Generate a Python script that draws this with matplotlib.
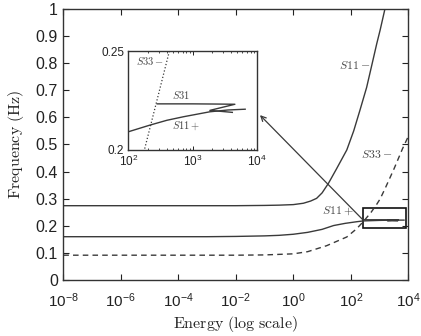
import numpy as np
import matplotlib
matplotlib.use('Agg')
import matplotlib.pyplot as plt
from matplotlib.patches import Rectangle

plt.rcParams['font.family'] = ['Liberation Sans', 'DejaVu Sans']
plt.rcParams['mathtext.fontset'] = 'custom'
plt.rcParams['mathtext.rm'] = 'Liberation Sans'
plt.rcParams['mathtext.it'] = 'Liberation Sans:italic'

# main curves: log10(energy) and frequency (Hz)
s11m_logE = [-8, -2, -1, -0.5, 0, 0.35, 0.6, 0.81, 1.0, 1.22, 1.5, 1.86, 2.1, 2.32, 2.55, 2.73, 2.9, 3.02, 3.19, 3.3]
s11m_freq = [0.275, 0.275, 0.276, 0.277, 0.279, 0.284, 0.292, 0.302, 0.322, 0.357, 0.41, 0.48, 0.55, 0.627, 0.71, 0.792, 0.87, 0.921, 1.0, 1.05]

s11p_logE = [-8, -3, -2, -1, -0.5, 0, 0.5, 1.0, 1.4, 1.8, 2.2, 2.43, 3.0, 3.5, 3.85]
s11p_freq = [0.161, 0.161, 0.162, 0.164, 0.166, 0.170, 0.177, 0.188, 0.202, 0.210, 0.216, 0.219, 0.221, 0.222, 0.222]

s33m_logE = [-8, -2, -1, 0, 0.5, 1.16, 1.86, 2.2, 2.43, 2.7, 2.9, 3.02, 3.2, 3.5, 3.8, 4.0]
s33m_freq = [0.093, 0.093, 0.094, 0.098, 0.106, 0.128, 0.160, 0.19, 0.216, 0.25, 0.28, 0.30, 0.34, 0.41, 0.485, 0.53]

# zoomed region
in_s33_logE = [2.2, 2.25, 2.45, 2.64, 2.68]
in_s33_freq = [0.196, 0.2, 0.2256, 0.25, 0.255]
in_s11p_logE = [2.0, 2.34, 2.6, 2.86, 3.27, 3.55, 3.82]
in_s11p_freq = [0.2092, 0.2126, 0.2150, 0.2168, 0.2193, 0.2202, 0.2206]
in_s31_logE = [2.45, 3.0, 3.4, 3.66, 3.27, 3.45, 3.62]
in_s31_freq = [0.2233, 0.2233, 0.2232, 0.2231, 0.2200, 0.2195, 0.2190]

xticks = [-8, -6, -4, -2, 0, 2, 4]
xtick_labels = [r'$\mathregular{10^{-8}}$', r'$\mathregular{10^{-6}}$', r'$\mathregular{10^{-4}}$',
                r'$\mathregular{10^{-2}}$', r'$\mathregular{10^{0}}$', r'$\mathregular{10^{2}}$',
                r'$\mathregular{10^{4}}$']
yticks = [0, 0.1, 0.2, 0.3, 0.4, 0.5, 0.6, 0.7, 0.8, 0.9, 1]
ytick_labels = ['0', '0.1', '0.2', '0.3', '0.4', '0.5', '0.6', '0.7', '0.8', '0.9', '1']
in_xticks = [2, 3, 4]
in_xtick_labels = [r'$\mathregular{10^{2}}$', r'$\mathregular{10^{3}}$', r'$\mathregular{10^{4}}$']
in_yticks = [0.2, 0.25]
in_ytick_labels = ['0.2', '0.25']

lc = '#3a3a3a'
fig = plt.figure(figsize=(4.21, 3.36), dpi=100)
ax = fig.add_axes([0.1504, 0.1652, 0.8195, 0.8095])

ax.plot(10 ** np.array(s11m_logE), s11m_freq, color=lc, lw=1.0)
ax.plot(10 ** np.array(s11p_logE), s11p_freq, color=lc, lw=1.0)
ax.plot(10 ** np.array(s33m_logE), s33m_freq, color=lc, lw=1.0, ls=(0, (4, 3)))
ax.plot(10 ** np.array(in_s31_logE), in_s31_freq, color=lc, lw=1.0)

ax.set_xscale('log')
ax.set_xlim(1e-8, 1e4)
ax.set_ylim(0, 1)
ax.set_xticks([10.0 ** v for v in xticks])
ax.set_xticklabels(xtick_labels)
ax.set_yticks(yticks)
ax.set_yticklabels(ytick_labels)
ax.minorticks_off()
ax.tick_params(direction='in', top=True, right=True, length=4, width=0.8,
               labelsize=11, colors='#222')
ax.tick_params(axis='y', pad=4, labelsize=11.5)
ax.tick_params(axis='x', pad=7.5)
for sp in ax.spines.values():
    sp.set_color('#333')
    sp.set_linewidth(1.0)

ax.set_xlabel(r'$\mathrm{Energy\ (log\ scale)}$', fontsize=11.5, math_fontfamily='cm', color='#222')
ax.set_ylabel(r'$\mathrm{Frequency\ (Hz)}$', fontsize=11.5, math_fontfamily='cm', color='#222')
ax.xaxis.set_label_coords(0.5, -0.123)
ax.yaxis.set_label_coords(-0.108, 0.5)

ax.text(10 ** 2.68, 0.79, r'$S11-$', math_fontfamily='cm', fontsize=8.5, ha='right', va='center', color='#444')
ax.text(10 ** 3.45, 0.461, r'$S33-$', math_fontfamily='cm', fontsize=8.5, ha='right', va='center', color='#444')
ax.text(10 ** 2.09, 0.255, r'$S11+$', math_fontfamily='cm', fontsize=8.5, ha='right', va='center', color='#444')

ax.add_patch(Rectangle((10 ** 2.43, 0.192), 10 ** 3.92 - 10 ** 2.43, 0.073,
                       fill=False, ec='#111', lw=1.2))
ax.annotate('', xy=(10 ** -1.16, 0.608), xytext=(10 ** 2.43, 0.222),
            arrowprops=dict(arrowstyle='->', color=lc, lw=0.9, shrinkA=0, shrinkB=0,
                            mutation_scale=9))

# inset
ax_in = fig.add_axes([0.3048, 0.5536, 0.305, 0.2946])
ax_in.plot(10 ** np.array(in_s33_logE), in_s33_freq, color=lc, lw=0.9, ls=':')
ax_in.plot(10 ** np.array(in_s11p_logE), in_s11p_freq, color=lc, lw=1.0)
ax_in.plot(10 ** np.array(in_s31_logE), in_s31_freq, color=lc, lw=1.0)
ax_in.set_xscale('log')
ax_in.set_xlim(1e2, 1e4)
ax_in.set_ylim(0.2, 0.25)
ax_in.set_xticks([10.0 ** v for v in in_xticks])
ax_in.set_xticklabels(in_xtick_labels)
ax_in.set_yticks(in_yticks)
ax_in.set_yticklabels(in_ytick_labels)
ax_in.tick_params(direction='in', top=True, right=True, length=3, width=0.7,
                  labelsize=8.5, colors='#222', pad=3)
ax_in.tick_params(which='minor', direction='in', length=1.5, width=0.5, top=True)
for sp in ax_in.spines.values():
    sp.set_color('#333')
    sp.set_linewidth(1.0)

ax_in.text(10 ** 2.55, 0.245, r'$S33-$', math_fontfamily='cm', fontsize=7.5, ha='right', va='center', color='#444')
ax_in.text(10 ** 2.68, 0.2278, r'$S31$', math_fontfamily='cm', fontsize=7.5, ha='left', va='center', color='#444')
ax_in.text(10 ** 2.68, 0.2121, r'$S11+$', math_fontfamily='cm', fontsize=7.5, ha='left', va='center', color='#444')

fig.savefig('out.png', dpi=100)
